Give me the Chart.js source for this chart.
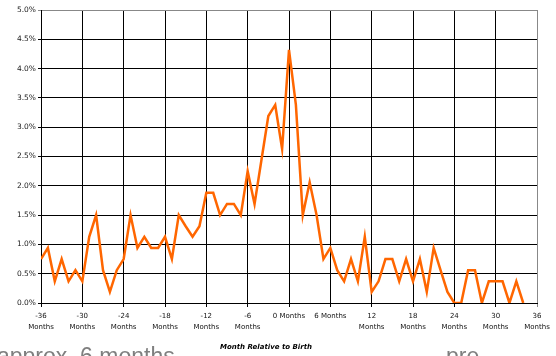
<!DOCTYPE html>
<html>
<head>
<meta charset="utf-8">
<script src="https://cdn.jsdelivr.net/npm/chart.js@4"></script>
<style>
  body { margin: 0; background: #fff; }
  #wrap { width: 556px; height: 356px; position: relative; }
</style>
</head>
<body>
<div id="wrap"><canvas id="birthChart" width="556" height="356"></canvas></div>
<script>
// month relative to birth (x) and share of cases in % (y)
const months = [-36, -35, -34, -33, -32, -31, -30, -29, -28, -27, -26, -25, -24, -23, -22, -21, -20, -19,
    -18, -17, -16, -15, -14, -13, -12, -11, -10, -9, -8, -7, -6, -5, -4, -3, -2, -1,
    0, 1, 2, 3, 4, 5, 6, 7, 8, 9, 10, 11, 12, 13, 14, 15, 16, 17,
    18, 19, 20, 21, 22, 23, 24, 25, 26, 27, 28, 29, 30, 31, 32, 33, 34];
const shares = [0.75, 0.94, 0.37, 0.75, 0.37, 0.56, 0.37, 1.13, 1.50, 0.56, 0.19, 0.56, 0.75, 1.50, 0.94, 1.13, 0.94, 0.94,
    1.13, 0.75, 1.50, 1.31, 1.13, 1.31, 1.88, 1.88, 1.50, 1.69, 1.69, 1.50, 2.25, 1.69, 2.44, 3.19, 3.38, 2.63,
    4.32, 3.38, 1.50, 2.06, 1.50, 0.75, 0.94, 0.56, 0.37, 0.75, 0.37, 1.13, 0.19, 0.37, 0.75, 0.75, 0.37, 0.75,
    0.37, 0.75, 0.19, 0.94, 0.56, 0.19, 0, 0, 0.56, 0.56, 0, 0.37, 0.37, 0.37, 0, 0.37, 0];

const tickValues = [-36, -30, -24, -18, -12, -6, 0, 6, 12, 18, 24, 30, 36];
const tickLabels = [['-36', 'Months'], ['-30', 'Months'], ['-24', 'Months'], ['-18', 'Months'], ['-12', 'Months'],
    ['-6', 'Months'], '0 Months', '6 Months', ['12', 'Months'], ['18', 'Months'], ['24', 'Months'],
    ['30', 'Months'], ['36', 'Months']];

const axisTitle = 'Month Relative to Birth';
const backText = ['approx. 6 months', 'pre-'];

// extra texts: axis title (off-centre like the original) and the slide text behind
const extraText = {
    id: 'extraText',
    afterDraw(chart) {
        const c = chart.ctx;
        c.save();
        c.fillStyle = '#000';
        c.font = 'italic bold 7px "DejaVu Sans"';
        c.textAlign = 'center';
        c.textBaseline = 'middle';
        c.fillText(axisTitle, 266, 347);
        c.fillStyle = '#7f7f7f';
        c.font = '23px "Liberation Sans"';
        c.textAlign = 'left';
        c.textBaseline = 'alphabetic';
        c.fillText(backText[0], -3, 364);
        c.fillText(backText[1], 446, 364);
        c.restore();
    }
};

const ctx = document.getElementById('birthChart').getContext('2d');

const birthChart = new Chart(ctx, {
    type: 'line',
    data: {
        datasets: [{
            data: months.map((m, i) => ({ x: m, y: shares[i] })),
            borderColor: '#ff6600',
            borderWidth: 2.5,
            pointRadius: 0,
            tension: 0,
            fill: false
        }]
    },
    options: {
        responsive: false,
        animation: false,
        layout: { padding: { left: 0, right: 19, top: 10, bottom: 0 } },
        plugins: { legend: { display: false }, tooltip: { enabled: false } },
        scales: {
            x: {
                type: 'linear',
                min: -36,
                max: 36,
                afterFit: s => { s.height = 53; },
                afterBuildTicks: s => { s.ticks = tickValues.map(v => ({ value: v })); },
                ticks: {
                    autoSkip: false,
                    maxRotation: 0,
                    padding: 4,
                    color: '#111',
                    font: { family: 'DejaVu Sans', size: 7, lineHeight: 1.57 },
                    callback: v => tickLabels[tickValues.indexOf(v)]
                },
                grid: {
                    color: c => (c.tick && c.tick.value === 36 ? '#888' : '#000'),
                    tickLength: 4
                },
                border: { color: '#000' }
            },
            y: {
                min: 0,
                max: 5,
                afterFit: s => { s.width = 41; },
                ticks: {
                    stepSize: 0.5,
                    padding: 2,
                    color: '#222',
                    font: { family: 'DejaVu Sans', size: 7.5 },
                    callback: v => v.toFixed(1) + '%'
                },
                grid: {
                    color: c => (c.tick && c.tick.value === 5 ? '#888' : '#000'),
                    tickLength: 3
                },
                border: { color: '#000' }
            }
        }
    },
    plugins: [extraText]
});
</script>
</body>
</html>
